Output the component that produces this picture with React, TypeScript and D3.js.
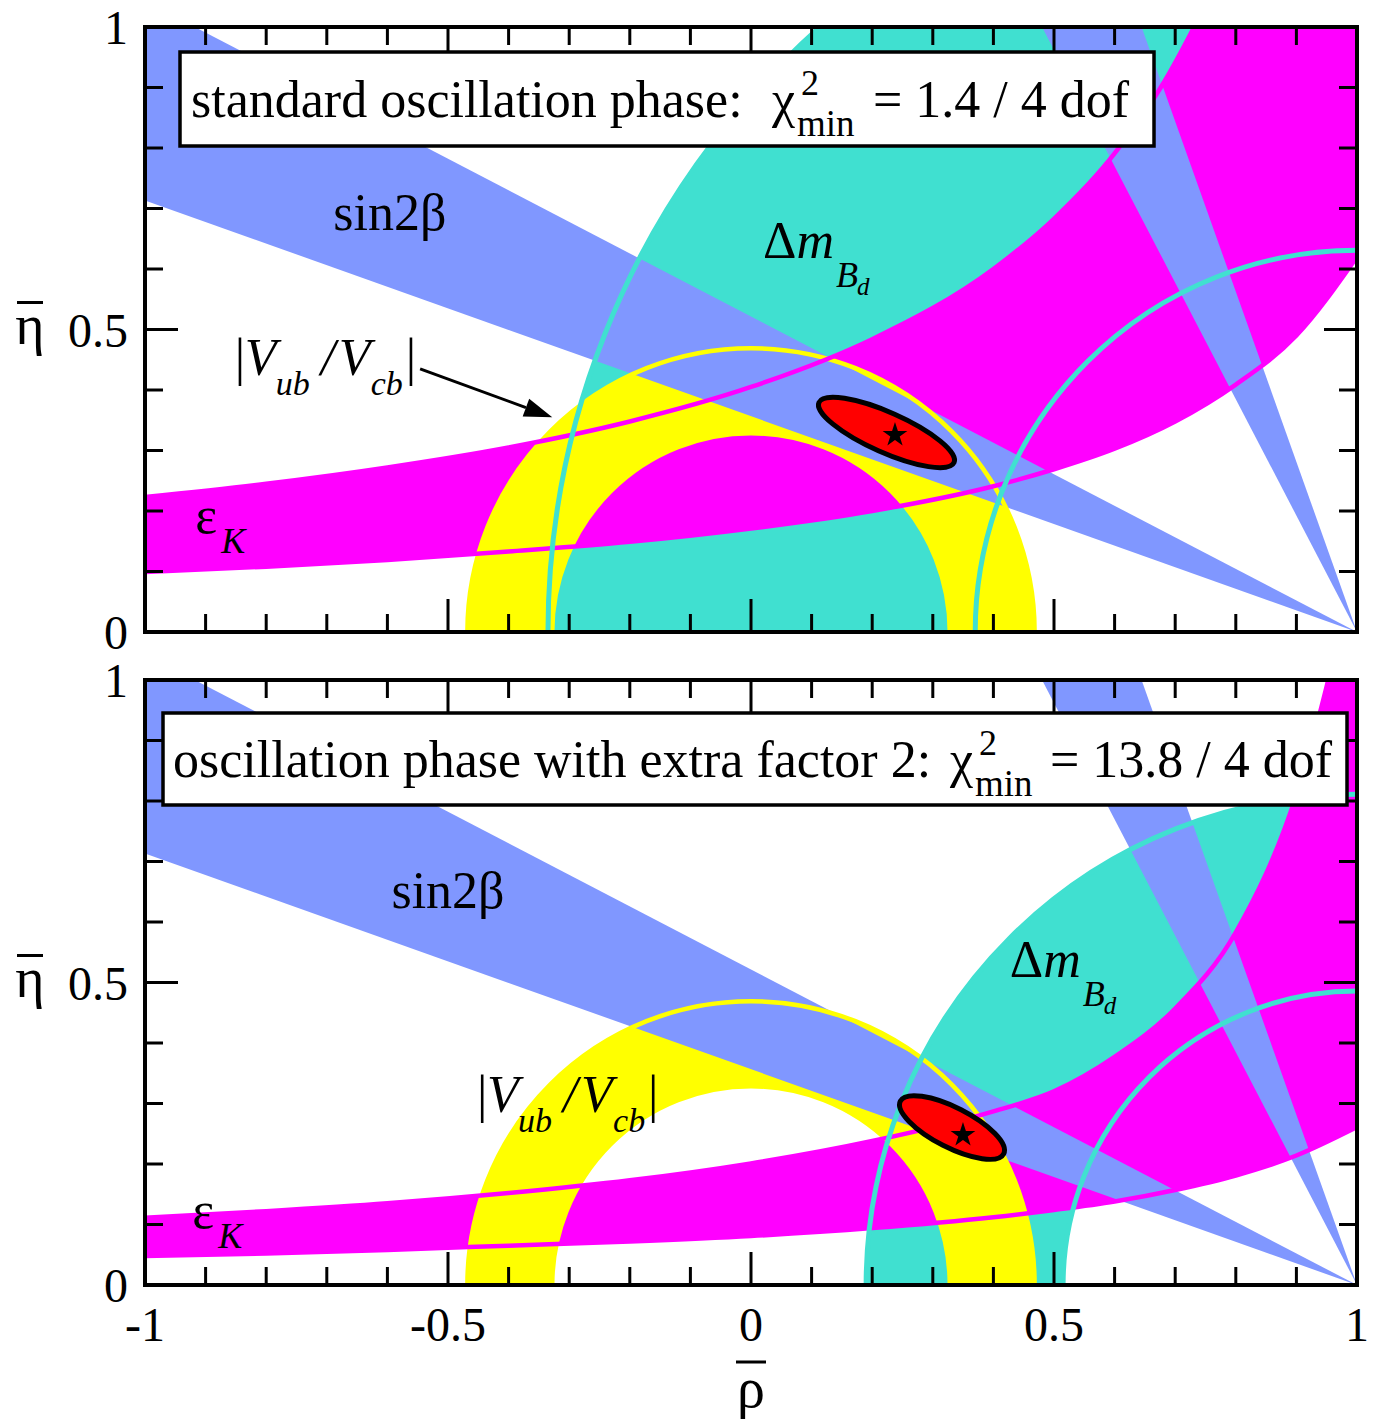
import React from "react";
import * as d3 from "d3";

// ---------------- data ----------------
const RHO_MAJOR_TICKS = [-1, -0.5, 0, 0.5, 1];
const RHO_TICK_LABELS = ["-1", "-0.5", "0", "0.5", "1"];
const ETA_MAJOR_TICKS = [0, 0.5, 1];
const ETA_TICK_LABELS = ["0", "0.5", "1"];
const MINOR_TICKS_PER_UNIT = 10;

const PANEL_TITLES = ["standard oscillation phase:", "oscillation phase with extra factor 2:"];
const CHI2_VALUES = ["= 1.4 / 4 dof", "= 13.8 / 4 dof"];

// |Vub/Vcb| annulus around (0,0)
const VUB_INNER = [0.328, 0.328];
const VUB_OUTER = [0.468, 0.468];
// Delta m_Bd annulus around (1,0)
const DM_INNER = [0.63, 0.485];
const DM_OUTER = [1.335, 0.81];
// sin2beta wedge from (1,0): angle range in degrees
const BETA_MIN_DEG = [19.6, 19.6];
const BETA_MAX_DEG = [27.5, 27.5];

// epsilon_K band edges (eta at given rho)
const EPSK_RHO = [-1, -0.8, -0.6, -0.4, -0.2, 0, 0.2, 0.4, 0.5, 0.6, 0.7, 0.8, 0.9, 1];
const EPSK_LOWER_STD = [0.099, 0.108, 0.119, 0.133, 0.149, 0.171, 0.2, 0.241, 0.269, 0.303, 0.348, 0.409, 0.49, 0.62];
const EPSK_UPPER_STD = [0.223, 0.245, 0.272, 0.305, 0.348, 0.405, 0.484, 0.6, 0.683, 0.791, 0.941, 1.16, 1.513, 2.17];
const EPSK_LOWER_X2 = [0.048, 0.052, 0.058, 0.065, 0.072, 0.081, 0.094, 0.112, 0.124, 0.138, 0.157, 0.181, 0.214, 0.261];
const EPSK_UPPER_X2 = [0.111, 0.122, 0.135, 0.152, 0.173, 0.201, 0.238, 0.287, 0.32, 0.377, 0.457, 0.583, 0.81, 1.2];

// fit ellipse and best fit point
const FIT_RHO = [0.2236, 0.3317];
const FIT_ETA = [0.3298, 0.2603];
const FIT_SEMI_MAJOR = [0.122, 0.0957];
const FIT_SEMI_MINOR = [0.033, 0.033];
const FIT_TILT_DEG = [24, 27];
const BEST_RHO = [0.2376, 0.3498];
const BEST_ETA = [0.3256, 0.2479];

// ---------------- styling / layout ----------------
const FONT = "'Liberation Serif', 'Times New Roman', Times, serif";
const C_BLUE = "#8097ff";
const C_MAGENTA = "#ff00ff";
const C_YELLOW = "#ffff00";
const C_TURQ = "#40e0d0";
const C_RED = "#ff0000";

const PLOT_LEFT = 145;
const PLOT_RIGHT = 1357;
const PANEL_TOP = [27, 680];
const PANEL_HEIGHT = 605;

const LABEL_POS = {
  sin2b: [[-0.596, 0.664], [-0.5, 0.623]],
  dm: [[0.02, 0.618], [0.427, 0.509]],
  vub: [[-0.852, 0.425], [-0.452, 0.286]],
  epsk: [[-0.917, 0.164], [-0.922, 0.094]],
};
const ARROW_FROM = [-0.546, 0.435];
const ARROW_TO = [-0.328, 0.355];

function Panel({ i }: { i: number }) {
  const top = PANEL_TOP[i];
  const bottom = top + PANEL_HEIGHT;
  const x = d3.scaleLinear().domain([-1, 1]).range([PLOT_LEFT, PLOT_RIGHT]);
  const y = d3.scaleLinear().domain([0, 1]).range([bottom, top]);
  const k = x(1) - x(0);
  const deg = Math.PI / 180;

  const arcGen = d3.arc<any>();
  const vubPath = arcGen({ innerRadius: VUB_INNER[i] * k, outerRadius: VUB_OUTER[i] * k, startAngle: -Math.PI / 2, endAngle: Math.PI / 2 });
  const dmPath = arcGen({ innerRadius: DM_INNER[i] * k, outerRadius: DM_OUTER[i] * k, startAngle: -Math.PI / 2, endAngle: Math.PI / 2 });
  const wedgeR = 2.6 * k;
  const widePath = arcGen({ innerRadius: 0, outerRadius: wedgeR, startAngle: (BETA_MIN_DEG[i] - 90) * deg, endAngle: (BETA_MAX_DEG[i] - 90) * deg });
  const steepPath = arcGen({ innerRadius: 0, outerRadius: wedgeR, startAngle: -BETA_MAX_DEG[i] * deg, endAngle: -BETA_MIN_DEG[i] * deg });

  const arcLine = (cx: number, cy: number, r: number) => {
    const p = d3.path();
    p.arc(cx, cy, r, Math.PI, 2 * Math.PI);
    return p.toString();
  };

  const lower = i === 0 ? EPSK_LOWER_STD : EPSK_LOWER_X2;
  const upper = i === 0 ? EPSK_UPPER_STD : EPSK_UPPER_X2;
  const epsArea = d3
    .area<number>()
    .x((_, j) => x(EPSK_RHO[j]))
    .y0((_, j) => y(lower[j]))
    .y1((_, j) => y(upper[j]))
    .curve(d3.curveMonotoneX)(lower);
  const epsLine = d3
    .line<number>()
    .x((_, j) => x(EPSK_RHO[j]))
    .y((d) => y(d))
    .curve(d3.curveMonotoneX);

  const ox = x(0), oy = y(0), ax = x(1);

  const rhoMinor = d3
    .range(-MINOR_TICKS_PER_UNIT, MINOR_TICKS_PER_UNIT + 1)
    .map((v) => v / MINOR_TICKS_PER_UNIT)
    .filter((v) => !RHO_MAJOR_TICKS.some((m) => Math.abs(m - v) < 1e-9));
  const etaMinor = d3
    .range(0, MINOR_TICKS_PER_UNIT + 1)
    .map((v) => v / MINOR_TICKS_PER_UNIT)
    .filter((v) => !ETA_MAJOR_TICKS.some((m) => Math.abs(m - v) < 1e-9));
  const MAJ = 33, MIN = 18;

  const ecx = x(FIT_RHO[i]), ecy = y(FIT_ETA[i]);
  const star = d3.symbol(d3.symbolStar, 190)() as string;

  const clipId = `plot-clip-${i}`;

  const [sbx, sby] = LABEL_POS.sin2b[i];
  const [dmx, dmy] = LABEL_POS.dm[i];
  const [vbx, vby] = LABEL_POS.vub[i];
  const [ekx, eky] = LABEL_POS.epsk[i];

  // arrow
  const a0 = [x(ARROW_FROM[0]), y(ARROW_FROM[1])];
  const a1 = [x(ARROW_TO[0]), y(ARROW_TO[1])];
  const ang = Math.atan2(a1[1] - a0[1], a1[0] - a0[0]);
  const hl = 28, hw = 9.5;
  const hb = [a1[0] - hl * Math.cos(ang), a1[1] - hl * Math.sin(ang)];
  const head = `M${a1[0]},${a1[1]}L${hb[0] + hw * Math.sin(ang)},${hb[1] - hw * Math.cos(ang)}L${hb[0] - hw * Math.sin(ang)},${hb[1] + hw * Math.cos(ang)}Z`;

  const box = i === 0 ? { x: 180, y: 52, w: 974, h: 94 } : { x: 163, y: 713, w: 1184, h: 92 };
  const titleX = i === 0 ? 191 : 173;
  const baseY = i === 0 ? 117 : 777;
  const chiX = i === 0 ? 772 : 950;
  const valX = i === 0 ? 873 : 1050;

  const vx = x(vbx), vy = y(vby);

  return (
    <g fontFamily={FONT}>
      <defs>
        <clipPath id={clipId}>
          <rect x={PLOT_LEFT} y={top} width={PLOT_RIGHT - PLOT_LEFT} height={PANEL_HEIGHT} />
        </clipPath>
      </defs>
      <g clipPath={`url(#${clipId})`}>
        <path d={dmPath as string} transform={`translate(${ax},${oy})`} fill={C_TURQ} />
        <path d={epsArea as string} fill={C_MAGENTA} />
        <path d={vubPath as string} transform={`translate(${ox},${oy})`} fill={C_YELLOW} />
        <path d={widePath as string} transform={`translate(${ax},${oy})`} fill={C_BLUE} />
        <path d={steepPath as string} transform={`translate(${ax},${oy})`} fill={C_BLUE} />
        <path d={arcLine(ox, oy, VUB_OUTER[i] * k)} fill="none" stroke={C_YELLOW} strokeWidth={4.5} />
        <path d={arcLine(ox, oy, VUB_INNER[i] * k)} fill="none" stroke={C_YELLOW} strokeWidth={4.5} />
        <path d={epsLine(upper) as string} fill="none" stroke={C_MAGENTA} strokeWidth={4.5} />
        <path d={epsLine(lower) as string} fill="none" stroke={C_MAGENTA} strokeWidth={4.5} />
        <path d={arcLine(ax, oy, DM_OUTER[i] * k)} fill="none" stroke={C_TURQ} strokeWidth={5} />
        <path d={arcLine(ax, oy, DM_INNER[i] * k)} fill="none" stroke={C_TURQ} strokeWidth={5} />
        <ellipse
          cx={ecx}
          cy={ecy}
          rx={FIT_SEMI_MAJOR[i] * k}
          ry={FIT_SEMI_MINOR[i] * k}
          transform={`rotate(${FIT_TILT_DEG[i]} ${ecx} ${ecy})`}
          fill={C_RED}
          stroke="#000"
          strokeWidth={5}
        />
        <path d={star} transform={`translate(${x(BEST_RHO[i])},${y(BEST_ETA[i])})`} fill="#000" />
      </g>

      {/* ticks */}
      <g stroke="#000" strokeWidth={3}>
        {RHO_MAJOR_TICKS.map((v) => (
          <g key={`rM${v}`}>
            <line x1={x(v)} x2={x(v)} y1={bottom} y2={bottom - MAJ} />
            <line x1={x(v)} x2={x(v)} y1={top} y2={top + MAJ} />
          </g>
        ))}
        {rhoMinor.map((v) => (
          <g key={`rm${v}`}>
            <line x1={x(v)} x2={x(v)} y1={bottom} y2={bottom - MIN} />
            <line x1={x(v)} x2={x(v)} y1={top} y2={top + MIN} />
          </g>
        ))}
        {ETA_MAJOR_TICKS.map((v) => (
          <g key={`eM${v}`}>
            <line x1={PLOT_LEFT} x2={PLOT_LEFT + MAJ} y1={y(v)} y2={y(v)} />
            <line x1={PLOT_RIGHT} x2={PLOT_RIGHT - MAJ} y1={y(v)} y2={y(v)} />
          </g>
        ))}
        {etaMinor.map((v) => (
          <g key={`em${v}`}>
            <line x1={PLOT_LEFT} x2={PLOT_LEFT + MIN} y1={y(v)} y2={y(v)} />
            <line x1={PLOT_RIGHT} x2={PLOT_RIGHT - MIN} y1={y(v)} y2={y(v)} />
          </g>
        ))}
      </g>
      <rect x={PLOT_LEFT} y={top} width={PLOT_RIGHT - PLOT_LEFT} height={PANEL_HEIGHT} fill="none" stroke="#000" strokeWidth={4} />

      {/* y tick labels */}
      {ETA_MAJOR_TICKS.map((v, j) => (
        <text key={`el${v}`} x={128} y={y(v) + 17} fontSize={48} textAnchor="end">
          {ETA_TICK_LABELS[j]}
        </text>
      ))}
      {/* eta axis title */}
      <text x={30} y={(top + bottom) / 2 + 14} fontSize={56} textAnchor="middle">η</text>
      <line x1={17} x2={43} y1={(top + bottom) / 2 - 27} y2={(top + bottom) / 2 - 27} stroke="#000" strokeWidth={3} />

      {/* x tick labels only on lower panel */}
      {i === 1 &&
        RHO_MAJOR_TICKS.map((v, j) => (
          <text key={`rl${v}`} x={x(v)} y={bottom + 56} fontSize={48} textAnchor="middle">
            {RHO_TICK_LABELS[j]}
          </text>
        ))}

      {/* band labels */}
      <text x={x(sbx)} y={y(sby)} fontSize={52} textAnchor="middle">sin2β</text>
      <g>
        <text x={x(dmx)} y={y(dmy)} fontSize={52}>Δ<tspan fontStyle="italic">m</tspan></text>
        <text x={x(dmx) + 73} y={y(dmy) + 29} fontSize={36} fontStyle="italic">B</text>
        <text x={x(dmx) + 94} y={y(dmy) + 37} fontSize={25} fontStyle="italic">d</text>
      </g>
      <g>
        <text x={vx} y={vy} fontSize={52}>|</text>
        <text x={vx + 10} y={vy} fontSize={52} fontStyle="italic">V</text>
        <text x={vx + 41} y={vy + 20} fontSize={34} fontStyle="italic">ub</text>
        <text x={vx + 86} y={vy} fontSize={52} fontStyle="italic">/</text>
        <text x={vx + 104} y={vy} fontSize={52} fontStyle="italic">V</text>
        <text x={vx + 136} y={vy + 20} fontSize={34} fontStyle="italic">cb</text>
        <text x={vx + 171} y={vy} fontSize={52}>|</text>
      </g>
      <g>
        <text x={x(ekx)} y={y(eky)} fontSize={52}>ε</text>
        <text x={x(ekx) + 26} y={y(eky) + 20} fontSize={36} fontStyle="italic">K</text>
      </g>
      {i === 0 && (
        <g>
          <line x1={a0[0]} y1={a0[1]} x2={hb[0]} y2={hb[1]} stroke="#000" strokeWidth={3} />
          <path d={head} fill="#000" />
        </g>
      )}

      {/* title box */}
      <rect x={box.x} y={box.y} width={box.w} height={box.h} fill="#fff" stroke="#000" strokeWidth={3.5} />
      <text x={titleX} y={baseY} fontSize={52}>{PANEL_TITLES[i]}</text>
      <text x={chiX} y={baseY} fontSize={52}>χ</text>
      <text x={chiX + 29} y={baseY - 22} fontSize={36}>2</text>
      <text x={chiX + 25} y={baseY + 19} fontSize={37}>min</text>
      <text x={valX} y={baseY} fontSize={52}>{CHI2_VALUES[i]}</text>
    </g>
  );
}

export default function App() {
  return (
    <svg
      width={1382}
      height={1421}
      viewBox="0 0 1382 1421"
      style={{ position: "absolute", left: 0, top: 0, background: "#fff" }}
    >
      <rect x={0} y={0} width={1382} height={1421} fill="#fff" />
      <Panel i={0} />
      <Panel i={1} />
      <g fontFamily={FONT}>
        <text x={751} y={1407} fontSize={56} textAnchor="middle">ρ</text>
        <line x1={736} x2={766} y1={1362} y2={1362} stroke="#000" strokeWidth={3} />
      </g>
    </svg>
  );
}
